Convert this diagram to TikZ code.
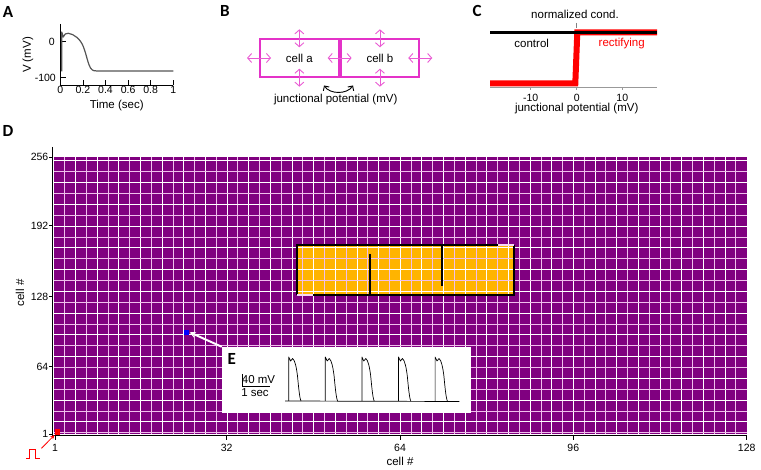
\documentclass[tikz,border=0pt]{standalone}
\usepackage{fontspec}
\setmainfont{Liberation Sans}
\newfontfamily\panelfont{Carlito}
\usetikzlibrary{arrows.meta,positioning}

\definecolor{plum}{RGB}{128,0,128}
\definecolor{gridpink}{RGB}{240,190,236}
\definecolor{amber}{RGB}{255,180,0}
\definecolor{cellmag}{RGB}{228,50,200}
\definecolor{tracegray}{RGB}{85,85,85}

\begin{document}
\begin{tikzpicture}[x=1pt, y=-1pt, font=\fontsize{11.5}{12}\selectfont,
  panel/.style={font=\panelfont\bfseries\fontsize{17}{17}\selectfont, inner sep=0pt},
  ticklbl/.style={font=\fontsize{10.5}{11}\selectfont, inner sep=0pt},
  cellbox/.style={draw=cellmag, line width=2pt, minimum width=78.6pt, minimum height=37.4pt, inner sep=0pt},
  barb/.style={cellmag!80!white, line width=0.9pt, {Straight Barb[length=4pt,width=9pt]}-{Straight Barb[length=4pt,width=9pt]}},
  sq/.style={minimum size=5.5pt, inner sep=0pt},
]
\useasboundingbox (0,0) rectangle (761,470);

% ---- A: action potential
\node[panel] (pa) at (8,12) {A};
\draw[line width=0.6pt] (60.3,24) -- (60.3,85) -- (173.3,85);
\foreach \t/\l in {0/0,0.2/0.2,0.4/0.4,0.6/0.6,0.8/0.8,1/1}
  \draw[line width=0.6pt] (60.3+113*\t,85) -- (60.3+113*\t,80) node[ticklbl, below=6pt] {\l};
\draw[line width=0.6pt] (60.3,41.7) -- (65.5,41.7);
\draw[line width=0.6pt] (60.3,77.7) -- (65.5,77.7);
\node[ticklbl, anchor=east] at (55,41.7) {0};
\node[ticklbl, anchor=east] at (56,77.7) {-100};
\node (timelbl) at (116.7,105.5) {Time (sec)};
\node[rotate=90] (vlbl) at (28,55) {V (mV)};
\draw[tracegray, line width=1.2pt, line join=round]
  (61.8,71.5) -- (61.8,32) -- (63.2,37) .. controls (64.5,34) and (66,33) .. (68.3,33.3)
  .. controls (74,34) and (80.5,39) .. (83.5,47) .. controls (86.5,55) and (88,64) .. (90.5,68)
  .. controls (92.5,71) and (95,71) .. (97,71) -- (173.3,71);

% ---- B: two coupled cells
\node[panel] (pb) at (225,11) {B};
\node[cellbox] (cella) at (299.35,58) {cell a};
\node[cellbox, right=0pt of cella] (cellb) {cell b};
\foreach \c in {cella,cellb} {
  \draw[barb] ([yshift=9pt]\c.north) -- ([yshift=-9pt]\c.north);
  \draw[barb] ([yshift=9pt]\c.south) -- ([yshift=-9pt]\c.south);
}
\draw[barb] ([xshift=-12pt]cella.west) -- ([xshift=12pt]cella.west);
\draw[barb] ([xshift=-12pt]cella.east) -- ([xshift=12pt]cella.east);
\draw[barb] ([xshift=-12pt]cellb.east) -- ([xshift=12pt]cellb.east);
\coordinate (jl) at (324,85.5);
\coordinate (jr) at (353,85.5);
\draw[line width=0.9pt, {Straight Barb[length=3.5pt,width=7pt]}-{Straight Barb[length=3.5pt,width=7pt]}]
  (jl) .. controls +(6,9) and +(-6,9) .. (jr);
\node (jlbl) at (335.7,100) {junctional potential (mV)};

% ---- C: conductance curves
\node[panel] (pc) at (477,11) {C};
\node (condlbl) at (575,14) {normalized cond.};
\draw[gray, line width=0.6pt] (576.7,23) -- (576.7,28);
\draw[gray!80, line width=0.6pt] (490,87.3) -- (657,87.3);
\foreach \x/\l in {530.7/-10,576.7/0,622.3/10}
  \draw[gray!80, line width=0.6pt] (\x,87.3) -- (\x,90.5) node[ticklbl, below=3pt, black] {\l};
\draw[red, line width=6pt, line join=miter] (490,83.5) -- (575.3,83.5) -- (577.3,32.3) -- (657,32.3);
\draw[black, line width=2.6pt] (490,32.3) -- (657,32.3);
\node (ctrl) at (531.7,43.5) {control};
\node[text=red] (rect) at (621.7,43.5) {rectifying};
\node (jlbl2) at (576.7,108.3) {junctional potential (mV)};

% ---- D: cell sheet
\node[panel] (pd) at (8,131) {D};
\fill[plum] (54,157.5) rectangle (746.7,434.5);
\fill[amber] (297,245.3) rectangle (514,294.7);
\foreach \k in {1,3,...,63}
  \draw[gridpink, line width=1pt] (54+10.823*\k,157.5) -- (54+10.823*\k,434.5);
\foreach \k in {2,4,...,62}
  \draw[white, line width=1pt] (54+10.823*\k,157.5) -- (54+10.823*\k,434.5);
\foreach \k in {0,2,...,24}
  \draw[white, line width=1pt] (54,161+10.87*\k) -- (746.7,161+10.87*\k);
\foreach \k in {1,3,...,25}
  \draw[gridpink, line width=1pt] (54,161+10.87*\k) -- (746.7,161+10.87*\k);
% scar region
\draw[line width=2pt] (498,245.3) -- (297,245.3) -- (297,294.7);
\draw[line width=2pt] (312.7,294.7) -- (514,294.7) -- (514,245.3);
\draw[gridpink!60!white, line width=2pt] (498,245.3) -- (514,245.3);
\draw[gridpink!60!white, line width=2pt] (297,294.7) -- (312.7,294.7);
\draw[line width=2pt] (370,254) -- (370,294.7);
\draw[line width=2pt] (442,245.3) -- (442,286.3);

% axes
\draw[line width=0.6pt] (52.3,147) -- (52.3,435) -- (746.7,435);
\foreach \y/\l in {157/256,225.7/192,296.7/128,366.7/64,434/1} {
  \draw[line width=0.6pt] (49,\y) -- (52.3,\y);
  \node[ticklbl, anchor=east] at (48.5,\y) {\l};
}
\foreach \x/\l in {55/1,226.7/32,400/64,573.3/96,746.7/128} {
  \draw[line width=0.6pt] (\x,435) -- (\x,440);
  \node[ticklbl] at (\x,448) {\l};
}
\node (xlbl) at (400,461) {cell \#};
\node[rotate=90] (ylbl) at (20,293) {cell \#};

% stimulus
\node[sq, fill=red] (redsq) at (57.5,432) {};
\draw[red, line width=0.8pt] (26,458.3) -- (29.3,458.3) -- (29.3,449.3) -- (35,449.3) -- (35,458.3) -- (40,458.3);
\coordinate (pulse) at (41.5,448.3);
\draw[red, line width=0.8pt, -{Stealth[length=4.5pt,width=4pt]}] (pulse) -- (redsq);

% recording site and inset
\node[sq, fill=blue] (bluesq) at (186.7,332.3) {};
\node[fill=white, minimum width=249pt, minimum height=66pt, inner sep=0pt] (inset) at (346.5,380) {};
\draw[white, line width=2pt, -{Stealth[length=6pt,width=6pt]}] (inset.north west) -- (bluesq.east);

% ---- E: recorded trace
\node[panel] (pe) at (231.7,359.3) {E};
\draw[line width=0.7pt] (242.7,374) -- (242.7,386) -- (270,386);
\node (mvlbl) at (258.5,379.5) {40 mV};
\node (seclbl) at (255,393) {1 sec};
\draw[line width=0.7pt] (285,401) -- (459.3,401.5);
\foreach \k in {0,...,4}
  \draw[line width=0.7pt, line join=round, xshift=\k*36.6pt]
    (288.7,401) -- (288.7,357) -- (290.6,361) -- (292.6,358.5)
    .. controls (295,360) and (296.5,368) .. (297.5,376)
    .. controls (298.5,386) and (299.5,398) .. (301,401);
\end{tikzpicture}
\end{document}
